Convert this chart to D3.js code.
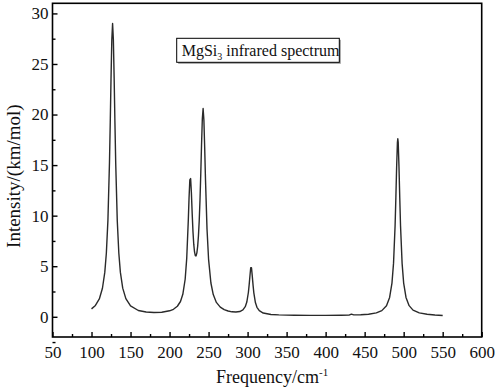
<!DOCTYPE html>
<html>
<head>
<meta charset="utf-8">
<script src="https://cdn.jsdelivr.net/npm/d3@7"></script>
<style>
html,body{margin:0;padding:0;background:#fff;}
svg text{font-family:"Times New Roman","Liberation Serif","DejaVu Serif",serif !important;fill:#111;}
</style>
</head>
<body>
<svg id="chart" width="499" height="392"></svg>
<script>
// ---- data ----
const frequency = [100,105,110,114,117,119,121,123,124,125,126,127,128,129,130,131,133,135,137,140,144,150,160,170,180,190,200,205,210,214,217,220,222,224,225,226,227,228,229,230,231,232,233,234,235,236,237,238,239,240,241,242,243,244,245,246,248,250,253,256,260,265,270,275,280,285,290,294,297,299,301,302,303,304,305,306,307,308,310,312,315,320,330,340,360,380,400,420,430,433,436,445,455,465,472,478,482,485,487,489,490,491,492,492.5,493,494,495,496,498,500,503,507,512,520,530,540,550];
const intensity = [0.78,1.12,1.76,2.82,4.39,6.28,9.51,15.2,19.2,23.6,27.4,29.0,27.4,23.6,19.2,15.2,9.5,6.28,4.39,2.83,1.79,1.07,0.62,0.47,0.42,0.45,0.59,0.74,1.04,1.51,2.22,3.71,5.78,9.49,11.81,13.54,13.67,12.23,10.2,8.44,7.18,6.41,6.04,6.02,6.32,6.95,7.99,9.47,11.52,14.13,17.07,19.59,20.59,19.45,16.79,13.71,8.69,5.68,3.34,2.2,1.42,0.95,0.7,0.57,0.49,0.47,0.52,0.68,1.0,1.46,2.4,3.15,4.03,4.85,4.85,4.02,3.13,2.37,1.41,0.94,0.6,0.37,0.23,0.19,0.15,0.14,0.14,0.15,0.16,0.26,0.19,0.2,0.25,0.38,0.61,1.1,1.91,3.33,5.28,8.98,11.76,14.83,17.25,17.6,17.25,14.83,11.76,8.98,5.28,3.33,1.91,1.1,0.66,0.38,0.25,0.17,0.12];
const xTicks = [50,100,150,200,250,300,350,400,450,500,550,600];
const xMinorTicks = [75,125,175,225,275,325,375,425,475,525,575];
const yTicks = [0,5,10,15,20,25,30];
const yMinorTicks = [-2.5,2.5,7.5,12.5,17.5,22.5,27.5];
const xTitle = "Frequency/cm";
const xTitleSup = "-1";
const yTitle = "Intensity/(km/mol)";
const legendMain = "MgSi";
const legendSub = "3";
const legendRest = " infrared spectrum";

// ---- layout ----
const L = 52.5, R = 481.7, T = 3.3, B = 337;
const FONT = "Times New Roman, Liberation Serif, DejaVu Serif, serif";
const svg = d3.select("#chart");
const x = d3.scaleLinear().domain([50,600]).range([L,R]);
const y = d3.scaleLinear().domain([-2,31]).range([B,T]);

// frame
svg.append("rect").attr("x",L).attr("y",T).attr("width",R-L).attr("height",B-T)
  .attr("fill","none").attr("stroke","#000").attr("stroke-width",1.6);

function styleAxis(g, labels){
  g.attr("font-family",FONT);
  g.select(".domain").remove();
  g.selectAll("line").attr("stroke","#000").attr("stroke-width",1.4);
  if(labels) g.selectAll("text").attr("font-size",17).attr("fill","#111");
}

// x axis
const gx = svg.append("g").attr("transform",`translate(0,${B})`)
  .call(d3.axisBottom(x).tickValues(xTicks).tickSizeInner(-5).tickSizeOuter(0).tickPadding(9).tickFormat(d3.format("d")));
styleAxis(gx,true);
const gxm = svg.append("g").attr("transform",`translate(0,${B})`)
  .call(d3.axisBottom(x).tickValues(xMinorTicks).tickSizeInner(-3).tickSizeOuter(0).tickFormat(""));
styleAxis(gxm,false);

// y axis
const gy = svg.append("g").attr("transform",`translate(${L},0)`)
  .call(d3.axisLeft(y).tickValues(yTicks).tickSizeInner(-5).tickSizeOuter(0).tickPadding(4).tickFormat(d3.format("d")));
styleAxis(gy,true);
const gym = svg.append("g").attr("transform",`translate(${L},0)`)
  .call(d3.axisLeft(y).tickValues(yMinorTicks).tickSizeInner(-3).tickSizeOuter(0).tickFormat(""));
styleAxis(gym,false);

// series
const pts = frequency.map((f,i)=>[f,intensity[i]]);
svg.append("path").datum(pts)
  .attr("fill","none").attr("stroke","#2a2a2a").attr("stroke-width",1.4).attr("stroke-linejoin","round")
  .attr("d", d3.line().x(d=>x(d[0])).y(d=>y(d[1])));

// axis titles
const xt = svg.append("text").attr("x",(L+R)/2+5).attr("y",383).attr("text-anchor","middle").attr("font-size",18);
xt.append("tspan").text(xTitle);
xt.append("tspan").attr("font-size",11).attr("dy",-7).text(xTitleSup);

svg.append("text").attr("transform",`translate(20,${(T+B)/2+6}) rotate(-90)`)
  .attr("text-anchor","middle").attr("font-size",19).text(yTitle);

// legend box
const lb = {x:176.7, y:38.3, w:162.6, h:24};
svg.append("rect").attr("x",lb.x+1.5).attr("y",lb.y+1.5).attr("width",lb.w).attr("height",lb.h).attr("fill","#999");
svg.append("rect").attr("x",lb.x).attr("y",lb.y).attr("width",lb.w).attr("height",lb.h)
  .attr("fill","#fff").attr("stroke","#000").attr("stroke-width",1);
const lt = svg.append("text").attr("x",lb.x+5).attr("y",lb.y+17.5).attr("font-size",16);
lt.append("tspan").text(legendMain);
lt.append("tspan").attr("font-size",10).attr("dy",4).text(legendSub);
lt.append("tspan").attr("dy",-4).text(legendRest);
</script>
</body>
</html>
